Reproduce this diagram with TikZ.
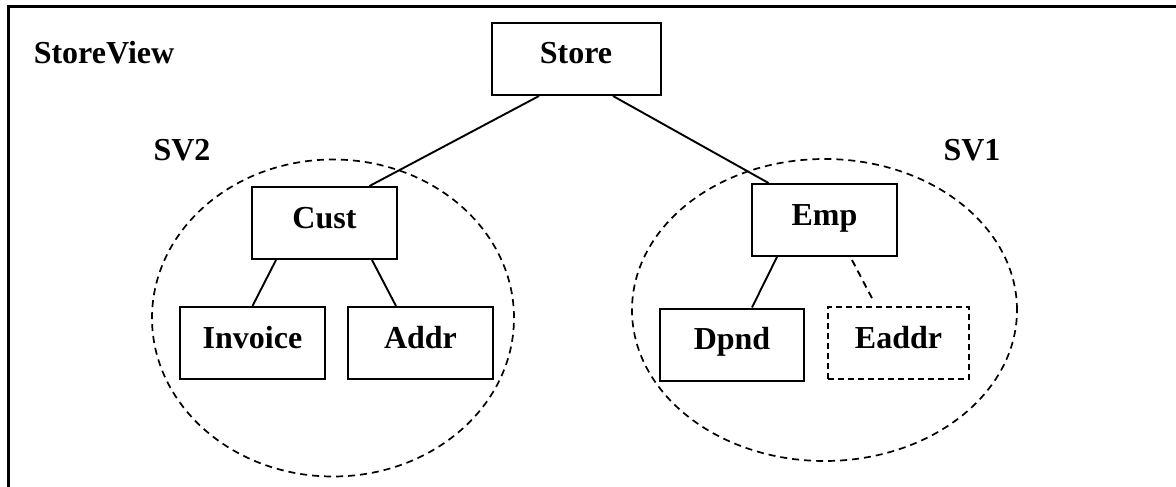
\documentclass[tikz,border=0pt]{standalone}
\usepackage{fontspec}
\setmainfont{Liberation Serif}
\usetikzlibrary{calc,shapes.geometric}
\begin{document}
\begin{tikzpicture}[x=1pt,y=-1pt,
  font=\bfseries\fontsize{32}{36}\selectfont,
  ent/.style={draw,line width=2pt,minimum width=145pt,minimum height=72pt,
    text height=21pt,text depth=11pt,inner sep=0pt},
  weak/.style={ent,dash pattern=on 6pt off 4pt},
  region/.style={draw,ellipse,line width=1.7pt,dash pattern=on 7pt off 5pt,inner sep=0pt},
  link/.style={line width=1.9pt}]
  \useasboundingbox (0,0) rectangle (1176,487);
  \draw[line width=3pt] (8.5,487) |- (1176,7);
  \node at (104,53) {StoreView};
  % the two views
  \node[region,minimum width=362pt,minimum height=317pt] (sv2) at (333,318) {};
  \node[region,minimum width=385pt,minimum height=302pt] (sv1) at (824.5,310) {};
  \node at (182,150) {SV2};
  \node at (972,150) {SV1};
  % entities
  \node[ent,minimum width=169pt] (store) at (576,59) {Store};
  \node[ent] (cust) at (324.5,223) {Cust};
  \node[ent] (invoice) at (252.5,343) {Invoice};
  \node[ent] (addr) at (420.5,343) {Addr};
  \node[ent] (emp) at (824.5,220) {Emp};
  \node[ent,minimum width=144pt] (dpnd) at (732,344.5) {Dpnd};
  \node[weak,minimum width=141pt] (eaddr) at (898.5,343) {Eaddr};
  % links
  \draw[link] ($(store.south)+(-37,0)$) -- ($(cust.north)+(45,0)$);
  \draw[link] ($(store.south)+(37,0)$) -- ($(emp.north)+(-56,0)$);
  \draw[link] ($(cust.south)+(-48.5,0)$) -- (invoice.north);
  \draw[link] ($(cust.south)+(47.5,0)$) -- ($(addr.north)+(-24.5,0)$);
  \draw[link] ($(emp.south)+(-47.5,0)$) -- ($(dpnd.north)+(20,0)$);
  \draw[link,dash pattern=on 7pt off 5pt] ($(emp.south)+(27.5,3)$) -- ($(eaddr.north)+(-24.5,-4)$);
\end{tikzpicture}
\end{document}
